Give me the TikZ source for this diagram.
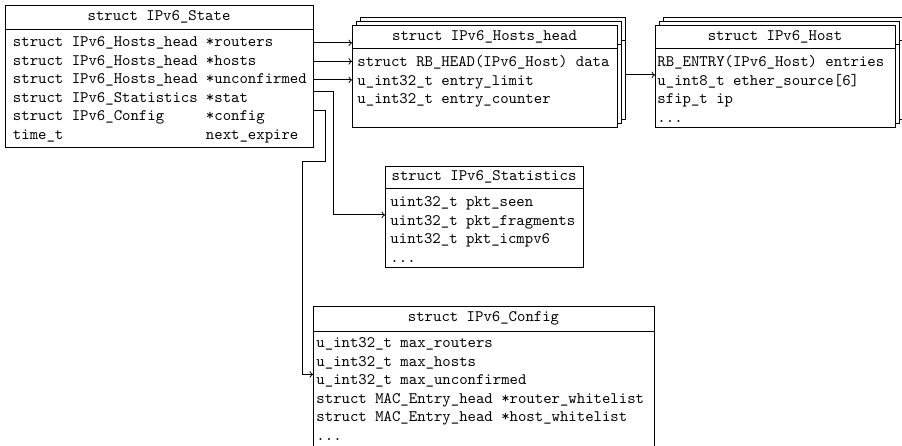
\documentclass[tikz,border=0pt]{standalone}
\usepackage{fontspec}
\usepackage{tikz}
% one pixel of the layout grid
\newcommand{\pxu}{0.625pt}

\begin{document}
\begin{tikzpicture}[x=0.625pt, y=-0.625pt, font=\ttfamily, line width=0.6pt,
    head/.style={draw, fill=white, anchor=north west, inner sep=0pt, outer sep=0pt},
    fields/.style={draw, fill=white, anchor=north west, inner sep=0pt, outer sep=0pt},
    row/.style={anchor=base west, inner sep=0pt, text height=6pt, text depth=1.5pt},
    conn/.style={->}]
  \useasboundingbox (0,0) rectangle (902,445);

  % IPv6_State
  \node[head, minimum width=308*\pxu, minimum height=24*\pxu] (statehead) at (5,5) {struct IPv6\_State};
  \node[fields, minimum width=308*\pxu, minimum height=118*\pxu] (state) at (statehead.south west) {};
  \foreach \i/\ty/\nm in {1/{struct IPv6\_Hosts\_head}/{*routers},
                          2/{struct IPv6\_Hosts\_head}/{*hosts},
                          3/{struct IPv6\_Hosts\_head}/{*unconfirmed},
                          4/{struct IPv6\_Statistics}/{*stat},
                          5/{struct IPv6\_Config}/{*config},
                          6/{time\_t}/{next\_expire}}{
    \node[row] (stype\i) at (12.5,28+18.5*\i) {\ty};
    \node[row] (sname\i) at (205.5,28+18.5*\i) {\nm};}

  % IPv6_Hosts_head, stacked
  \foreach \d in {8,4}{
    \node[head, minimum width=265*\pxu, minimum height=23*\pxu] (hostsheadcopy\d) at (352+\d,25-\d) {};
    \node[fields, minimum width=265*\pxu, minimum height=79*\pxu] (hostscopy\d) at (hostsheadcopy\d.south west) {};}
  \node[head, minimum width=265*\pxu, minimum height=23*\pxu] (hostshead) at (352,25) {struct IPv6\_Hosts\_head};
  \node[fields, minimum width=265*\pxu, minimum height=79*\pxu] (hosts) at (hostshead.south west) {};
  \foreach \i/\txt in {1/{struct RB\_HEAD(IPv6\_Host) data},
                       2/{u\_int32\_t entry\_limit},
                       3/{u\_int32\_t entry\_counter}}
    \node[row] (hh\i) at (357,48+18.5*\i) {\txt};

  % IPv6_Host, stacked
  \foreach \d in {8,4}{
    \node[head, minimum width=240*\pxu, minimum height=23*\pxu] (hostheadcopy\d) at (655+\d,25-\d) {};
    \node[fields, minimum width=240*\pxu, minimum height=79*\pxu] (hostcopy\d) at (hostheadcopy\d.south west) {};}
  \node[head, minimum width=240*\pxu, minimum height=23*\pxu] (hosthead) at (655,25) {struct IPv6\_Host};
  \node[fields, minimum width=240*\pxu, minimum height=79*\pxu] (host) at (hosthead.south west) {};
  \foreach \i/\txt in {1/{RB\_ENTRY(IPv6\_Host) entries},
                       2/{u\_int8\_t ether\_source[6]},
                       3/{sfip\_t ip},
                       4/{...}}
    \node[row] (ho\i) at (657,48+18.5*\i) {\txt};

  % IPv6_Statistics
  \node[head, minimum width=198*\pxu, minimum height=22*\pxu] (statshead) at (385,166) {struct IPv6\_Statistics};
  \node[fields, minimum width=198*\pxu, minimum height=79*\pxu] (stats) at (statshead.south west) {};
  \foreach \i/\txt in {1/{uint32\_t pkt\_seen},
                       2/{uint32\_t pkt\_fragments},
                       3/{uint32\_t pkt\_icmpv6},
                       4/{...}}
    \node[row] (st\i) at (390,188+18.5*\i) {\txt};

  % IPv6_Config
  \node[head, minimum width=341*\pxu, minimum height=25*\pxu] (cfghead) at (313,306) {struct IPv6\_Config};
  \node[fields, minimum width=341*\pxu, minimum height=124*\pxu] (cfg) at (cfghead.south west) {};
  \foreach \i/\txt in {1/{u\_int32\_t max\_routers},
                       2/{u\_int32\_t max\_hosts},
                       3/{u\_int32\_t max\_unconfirmed},
                       4/{struct MAC\_Entry\_head *router\_whitelist},
                       5/{struct MAC\_Entry\_head *host\_whitelist},
                       6/{...}}
    \node[row] (cf\i) at (316,329+18.5*\i) {\txt};

  % pointers
  \foreach \i in {1,2,3}
    \draw[conn] (sname\i -| state.east) -- (sname\i -| hosts.west);
  \draw[conn] (hh2.north -| hostscopy8.east) -- (hh2.north -| host.west);
  \draw[conn] (sname4.north -| state.east) -- ++(20,0) |- (st2.north -| stats.west);
  \draw[conn] (sname5.north -| state.east) -- ++(12,0) |- ++(-23,51) |- (cf3.north -| cfg.west);
\end{tikzpicture}
\end{document}
